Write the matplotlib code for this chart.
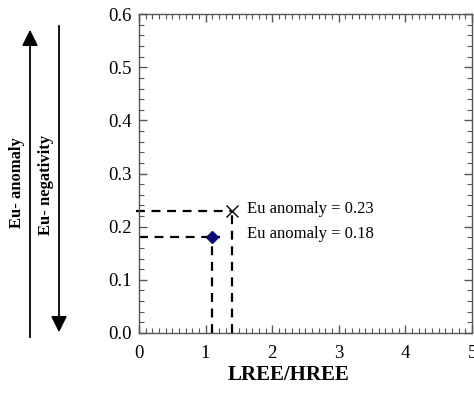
import matplotlib
matplotlib.use("Agg")
import matplotlib.pyplot as plt
from matplotlib.ticker import MultipleLocator

plt.rcParams['font.family'] = ['Liberation Serif', 'DejaVu Serif']

# data
lree_hree = [1.40, 1.10]
eu_anom = [0.23, 0.18]
labels = ["Eu anomaly = 0.23", "Eu anomaly = 0.18"]
xticks = [0, 1, 2, 3, 4, 5]
yticks = [0.0, 0.1, 0.2, 0.3, 0.4, 0.5, 0.6]

fig = plt.figure(figsize=(4.74, 3.94), dpi=100)
ax = fig.add_axes([0.293, 0.155, 0.703, 0.809])
ax.set_xlim(0, 5)
ax.set_ylim(0, 0.6)

dash = dict(color='black', lw=1.6, ls=(0, (4, 3)))
# X point
ax.plot([-0.05, lree_hree[0]], [eu_anom[0]] * 2, clip_on=False, **dash)
ax.plot([lree_hree[0]] * 2, [0, eu_anom[0]], **dash)
# diamond point
ax.plot([0, lree_hree[1] + 0.12], [eu_anom[1]] * 2, **dash)
ax.plot([lree_hree[1]] * 2, [0, eu_anom[1]], **dash)

ax.plot(lree_hree[0], eu_anom[0], marker='x', ms=9, mew=1.0, color='black', zorder=5)
ax.plot(lree_hree[1], eu_anom[1], marker='D', ms=6.5, color='#0a0a7a', mec='#0a0a7a', zorder=5)

ax.text(lree_hree[0] + 0.22, eu_anom[0] + 0.003, labels[0], fontsize=12, va='center', ha='left')
ax.text(lree_hree[0] + 0.22, eu_anom[1] + 0.007, labels[1], fontsize=12, va='center', ha='left')

ax.set_xticks(xticks)
ax.set_xticklabels([str(t) for t in xticks])
ax.set_yticks(yticks)
ax.set_yticklabels([f"{t:.1f}" for t in yticks])
ax.xaxis.set_minor_locator(MultipleLocator(0.1))
ax.yaxis.set_minor_locator(MultipleLocator(0.02))
ax.tick_params(which='both', direction='in', top=True, right=True, color='#555555')
ax.tick_params(which='major', length=6, width=1, labelsize=13.5)
ax.tick_params(axis='x', which='major', pad=9)
ax.tick_params(axis='y', which='major', pad=5)
ax.tick_params(which='minor', length=3.5, width=0.8)
for s in ax.spines.values():
    s.set_color('#555555')
    s.set_linewidth(1.0)

ax.set_xlabel("LREE/HREE", fontsize=15, fontweight='bold', labelpad=4)
ax.xaxis.set_label_coords(0.45, -0.1, transform=ax.transAxes)
ax.xaxis.label.set_va('top')

# left arrows and labels (figure coords)
fig.patches.append(matplotlib.patches.FancyArrowPatch(
    (30 / 474, 1 - 340 / 394), (30 / 474, 1 - 27 / 394), transform=fig.transFigure,
    arrowstyle='-|>,head_length=6,head_width=3', mutation_scale=1.6, color='black', lw=1.3))
fig.patches.append(matplotlib.patches.FancyArrowPatch(
    (59 / 474, 1 - 23 / 394), (59 / 474, 1 - 335 / 394), transform=fig.transFigure,
    arrowstyle='-|>,head_length=6,head_width=3', mutation_scale=1.6, color='black', lw=1.3))
fig.text(17 / 474, 1 - 183 / 394, "Eu- anomaly", rotation=90, fontsize=12, fontweight='bold',
         ha='center', va='center')
fig.text(46 / 474, 1 - 185 / 394, "Eu- negativity", rotation=90, fontsize=12, fontweight='bold',
         ha='center', va='center')

fig.savefig("out.png", dpi=100)
